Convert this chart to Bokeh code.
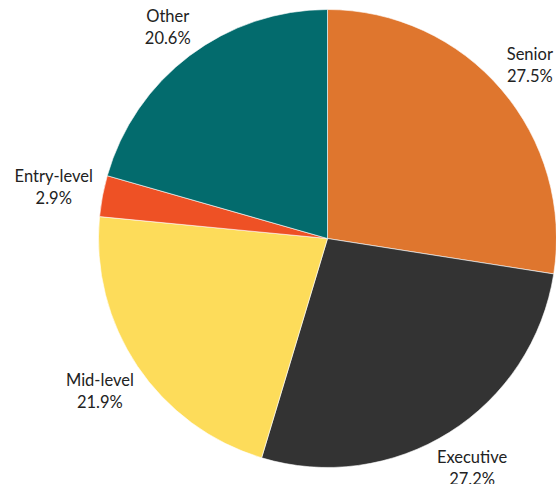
import math
from bokeh.plotting import figure
from bokeh.models import Range1d, ColumnDataSource
from bokeh.core.properties import value
from bokeh.embed import file_html
from bokeh.resources import INLINE

categories = ["Senior", "Executive", "Mid-level", "Entry-level", "Other"]
shares = [27.5, 27.2, 21.9, 2.9, 20.6]
colors = ["#DF762E", "#333333", "#FDDC5A", "#EE5125", "#036B6D"]

W, H = 556, 484
cx, cy = 327, 484 - 238
R = 229
GAP = 8
FS = 16.5
LINE = 22
BOX_H = 36


def text_width(s):
    w = 0.0
    for ch in s:
        if ch in "il.-'":
            w += 0.26
        elif ch in "tfr":
            w += 0.36
        elif ch in "mwMW%":
            w += 0.85
        elif ch.isupper():
            w += 0.62
        elif ch.isdigit():
            w += 0.56
        else:
            w += 0.52
    return w * FS


total = sum(shares)
starts, ends, lx, ly, pct = [], [], [], [], []
acc = 0.0
for name, s in zip(categories, shares):
    a0 = math.pi / 2 - acc / total * 2 * math.pi
    acc += s
    a1 = math.pi / 2 - acc / total * 2 * math.pi
    starts.append(a0)
    ends.append(a1)
    mid = (a0 + a1) / 2
    ux, uy = math.cos(mid), math.sin(mid)
    label_pct = f"{s:.1f}%"
    bw = max(text_width(name), text_width(label_pct))
    support = abs(ux) * bw / 2 + abs(uy) * BOX_H / 2
    ax, ay = cx + (R + GAP) * ux, cy + (R + GAP) * uy
    lx.append(ax + ux * support)
    ly.append(ay + uy * support)
    pct.append(label_pct)

src = ColumnDataSource(dict(start=starts, end=ends, color=colors,
                            name=categories, pct=pct, lx=lx,
                            ny=[y + LINE / 2 for y in ly],
                            py=[y - LINE / 2 for y in ly]))

p = figure(width=W, height=H, output_backend="svg", toolbar_location=None,
           x_range=Range1d(0, W), y_range=Range1d(0, H), min_border=0)
p.axis.visible = False
p.grid.visible = False
p.outline_line_color = None
p.background_fill_color = "white"

p.wedge(x=cx, y=cy, radius=R, start_angle="start", end_angle="end",
        direction="clock", fill_color="color", line_color="white",
        line_width=0.6, source=src)

p.text(x="lx", y="ny", text="name", source=src, text_align="center",
       text_baseline="middle", text_font=value("Lato"), text_font_size=f"{FS}px",
       text_color="#222222")
p.text(x="lx", y="py", text="pct", source=src, text_align="center",
       text_baseline="middle", text_font=value("Lato"), text_font_size=f"{FS}px",
       text_color="#222222")

open("out.html", "w").write(file_html(p, INLINE))
